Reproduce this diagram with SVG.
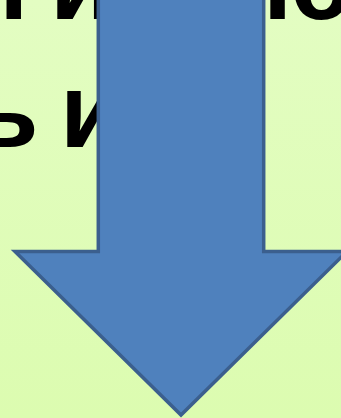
<svg xmlns="http://www.w3.org/2000/svg" width="341" height="418" viewBox="0 0 341 418">
  <defs>
    <linearGradient id="bg" x1="0" y1="0" x2="0" y2="1">
      <stop offset="0" stop-color="#e3fdc2"/>
      <stop offset="1" stop-color="#dcfcb0"/>
    </linearGradient>
  </defs>
  <style>
    .t { font-family: "Liberation Sans", Arial, sans-serif; font-weight: bold; font-size: 105px; fill: #000000; }
    .arrow { fill: #4f81bd; stroke: #3b5f8e; stroke-width: 3.5; stroke-linejoin: miter; }
  </style>
  <rect x="0" y="0" width="341" height="418" fill="url(#bg)"/>
  <g id="title-text">
    <text class="t" x="-12" y="19">т</text>
    <text class="t" x="50" y="19">и</text>
    <text class="t" x="263" y="19">ю</text>
    <text class="t" x="-26" y="147">ь</text>
    <text class="t" x="60" y="147">и</text>
  </g>
  <g id="down-arrow">
    <polygon class="arrow" points="98.3,-5 263.7,-5 263.7,251.5 347,251.5 181,415 15,251.5 98.3,251.5"/>
  </g>
</svg>
